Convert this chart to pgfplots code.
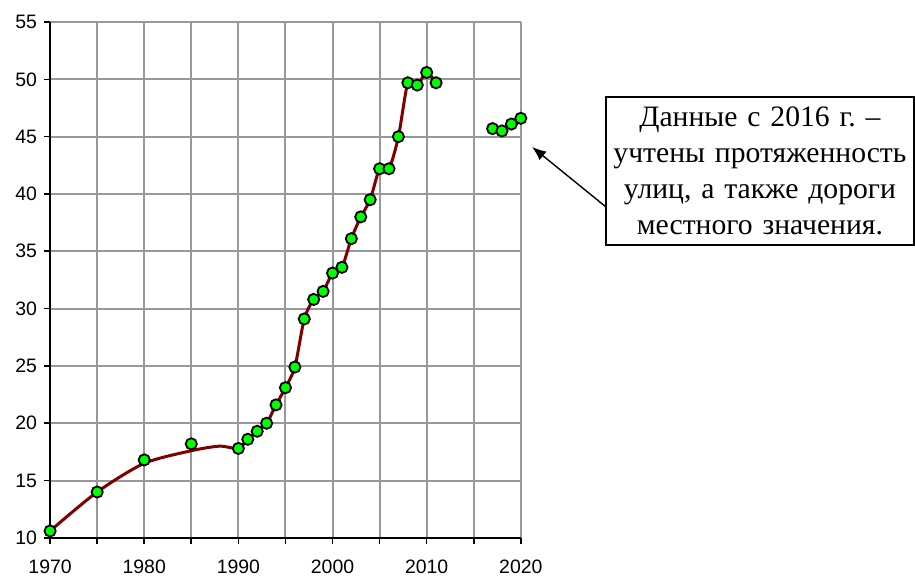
\documentclass[border=0pt]{standalone}
\usepackage{pgfplots}
\pgfplotsset{compat=1.18}
\usetikzlibrary{arrows.meta}
\usepackage{fontspec}
\setmainfont{Liberation Sans}
\newfontfamily\serif{Liberation Serif}
\definecolor{linered}{HTML}{800000}
\definecolor{ptgreen}{HTML}{00FF00}
\definecolor{gridgray}{HTML}{999999}
\frenchspacing

% points shown as markers
\pgfplotstableread{
year val
1970 10.6
1975 14.0
1980 16.8
1985 18.2
1990 17.8
1991 18.6
1992 19.3
1993 20.0
1994 21.6
1995 23.1
1996 24.9
1997 29.1
1998 30.8
1999 31.5
2000 33.1
2001 33.6
2002 36.1
2003 38.0
2004 39.5
2005 42.2
2006 42.2
2007 45.0
2008 49.7
2009 49.5
2010 50.6
2011 49.7
2017 45.7
2018 45.5
2019 46.1
2020 46.6
}\points

% smoothed trend line (as drawn)
\pgfplotstableread{
year val
1970 10.6
1975 14.0
1980 16.5
1985 17.6
1988 18.0
1990 17.8
1991 18.6
1992 19.3
1993 20.0
1994 21.6
1995 23.1
1996 24.9
1997 29.1
1998 30.8
1999 31.5
2000 33.1
2001 33.6
2002 36.1
2003 38.0
2004 39.5
2005 42.2
2006 42.2
2007 45.0
2008 49.7
2009 49.5
2010 50.6
2011 49.7
}\trend

\begin{document}
\begin{tikzpicture}
\begin{axis}[
    scale only axis,
    width=235pt, height=257.5pt,
    xmin=1970, xmax=2020, ymin=10, ymax=55,
    xtick={1970,1980,...,2020},
    minor xtick={1975,1985,...,2015},
    ytick={10,15,...,55},
    grid=both,
    major grid style={gridgray, line width=1pt},
    minor grid style={gridgray, line width=1pt},
    axis x line=bottom, axis y line=left,
    axis line style={-, black, line width=1pt},
    tick style={black, line width=0.8pt},
    tick align=outside,
    major tick length=3pt, minor tick length=3pt,
    x tick label style={/pgf/number format/1000 sep=, yshift=-4.5pt},
    tick label style={font=\fontsize{9.7}{11}\selectfont},
    /pgf/number format/assume math mode=true,
    clip=false,
]
\addplot[linered, line width=1.5pt, smooth, tension=0.45, no marks] table[x=year, y=val] {\trend};
\addplot[only marks, mark=*, mark size=2.8pt, mark options={fill=ptgreen, draw=black, line width=0.9pt}] table[x=year, y=val] {\points};

\node[draw=black, line width=0.8pt, fill=white, text width=150pt, align=center,
      minimum height=74pt, inner sep=2pt, font=\serif\fontsize{14.8}{18}\selectfont]
  at (axis cs:2045.4,42.0)
  {Данные с 2016 г. –\\учтены протяженность\\улиц, а также дороги\\местного значения.};
\draw[-{Latex[length=7pt,width=5.5pt]}, line width=0.7pt] (axis cs:2029.0,38.9) -- (axis cs:2021.2,44.1);
\coordinate (ll) at (rel axis cs:0,0);
\coordinate (ur) at (rel axis cs:1,1);
\end{axis}
\path ([xshift=-25pt,yshift=-19pt]ll) rectangle ([yshift=11pt]ur);
\end{tikzpicture}
\end{document}
